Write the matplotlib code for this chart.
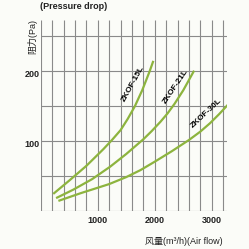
import matplotlib.pyplot as plt

plt.rcParams['font.family'] = ['Liberation Sans', 'Noto Sans CJK SC', 'DejaVu Sans']

# air flow (m3/h) vs pressure drop (Pa)
flow_15 = [220, 500, 800, 1100, 1250, 1400, 1525, 1650, 1780, 1910, 1975]
drop_15 = [24, 43, 64, 88, 101, 115, 131, 149, 172, 199, 214]
flow_21 = [270, 570, 900, 1220, 1500, 1800, 1950, 2100, 2225, 2350, 2500, 2690]
drop_21 = [18, 30, 45, 63, 81, 102, 114, 127, 139, 153, 172, 200]
flow_30 = [310, 700, 1200, 1500, 1750, 2000, 2300, 2600, 2800, 2970, 3130, 3290]
drop_30 = [14, 25, 38, 48, 58, 70, 85, 101, 113, 125, 138, 152]

modelos = ['ZKOF-15L', 'ZKOF-21L', 'ZKOF-30L']
x_ticks = [1000, 2000, 3000]
y_ticks = [100, 200]

verde = '#8db43e'
gris = '#8a8a8a'

fig = plt.figure(figsize=(2.49, 2.49), dpi=100, facecolor='#fbfcf8')
ax = fig.add_axes([0.1635, 0.1538, 0.747, 0.766])
ax.set_facecolor('#fbfcf8')
ax.set_xlim(0, 3262)
ax.set_ylim(0, 272.4)
ax.axis('off')

# rejilla
ax.vlines(range(0, 3201, 200), 0, 272.4, color=gris, lw=0.8)
ax.hlines(range(0, 251, 50), 0, 3262, color=gris, lw=0.8)

ax.plot(flow_15, drop_15, color=verde, lw=1.6, solid_capstyle='butt', solid_joinstyle='round')
ax.plot(flow_21, drop_21, color=verde, lw=1.6, solid_capstyle='butt', solid_joinstyle='round')
ax.plot(flow_30, drop_30, color=verde, lw=1.6, solid_capstyle='butt', solid_joinstyle='round')

ax.text(1620, 181, modelos[0], rotation=61, ha='center', va='center', fontsize=6, fontweight='bold', clip_on=False)
ax.text(2360, 177, modelos[1], rotation=56, ha='center', va='center', fontsize=6, fontweight='bold', clip_on=False)
ax.text(2900, 139, modelos[2], rotation=43, ha='center', va='center', fontsize=6, fontweight='bold', clip_on=False)

for t in x_ticks:
    ax.text(t, -13.5, str(t), ha='center', va='center', fontsize=6.5, fontweight='bold', color='#222222', clip_on=False)
for t in y_ticks:
    ax.text(-20, t + 1, str(t), ha='right', va='top', fontsize=6.5, fontweight='bold', color='#222222', clip_on=False)

fig.text(0.297, 0.972, '(Pressure drop)', ha='center', va='center', fontsize=6.5, fontweight='bold', color='#222222')
fig.text(0.129, 0.855, '阻力(Pa)', ha='center', va='center', rotation=90, fontsize=6.5, color='#222222')
fig.text(0.895, 0.029, '风量(m³/h)(Air flow)', ha='right', va='center', fontsize=6.5, color='#222222')

fig.savefig('out.png', dpi=100, facecolor=fig.get_facecolor())
